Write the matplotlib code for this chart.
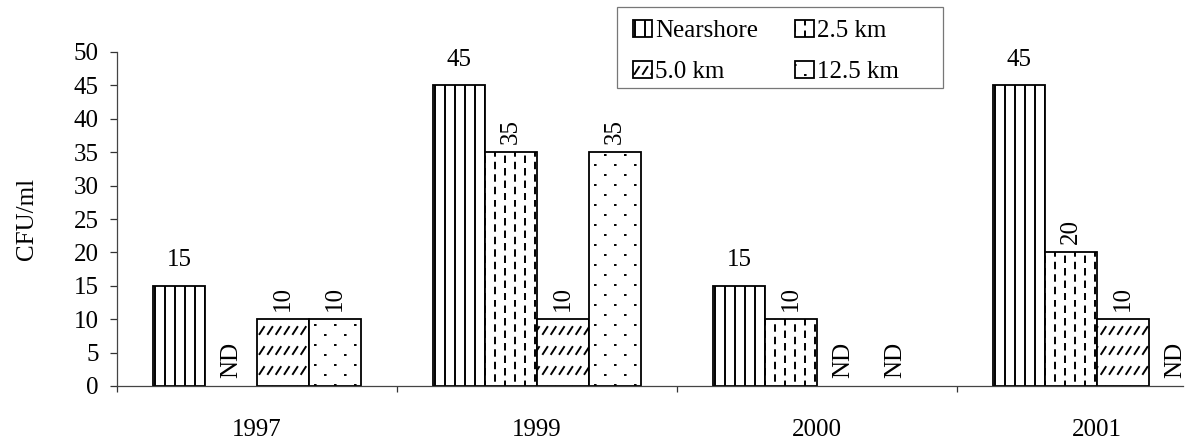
import numpy as np
import matplotlib
matplotlib.use("Agg")
import matplotlib.pyplot as plt
import matplotlib.hatch as mhatch
from matplotlib.path import Path
from matplotlib.patches import Patch, Rectangle

# ---------------- data ----------------
years = ["1997", "1999", "2000", "2001"]
series_names = ["Nearshore", "2.5 km", "5.0 km", "12.5 km"]
nearshore = [15, 45, 15, 45]
km_2_5 = [None, 35, 10, 20]
km_5_0 = [10, 10, None, 10]
km_12_5 = [10, 35, None, None]
nd_label = "ND"
y_label = "CFU/ml"
y_ticks = [0, 5, 10, 15, 20, 25, 30, 35, 40, 45, 50]

series_values = [nearshore, km_2_5, km_5_0, km_12_5]
hatches = ["|", "-", "/", "."]


# ---------------- custom hatch patterns ----------------
class VSolid(mhatch.HatchPatternBase):
    def __init__(self, hatch, density):
        self.n = 10 if "|" in hatch else 0
        self.num_vertices = self.n * 2

    def set_vertices_and_codes(self, vertices, codes):
        xs = (np.arange(self.n) + 0.5) / self.n
        vertices[0::2, 0] = xs
        vertices[0::2, 1] = 0.0
        vertices[1::2, 0] = xs
        vertices[1::2, 1] = 1.0
        codes[0::2] = Path.MOVETO
        codes[1::2] = Path.LINETO


class VDashed(mhatch.HatchPatternBase):
    def __init__(self, hatch, density):
        self.cols = 10 if "-" in hatch else 0
        self.per = 8
        self.num_vertices = self.cols * self.per * 2

    def set_vertices_and_codes(self, vertices, codes):
        i = 0
        for c in range(self.cols):
            x = (c + 0.5) / self.cols
            for k in range(self.per):
                y0 = (k + 0.5 * (c % 2)) / self.per + 0.005
                vertices[i] = (x, y0)
                vertices[i + 1] = (x, y0 + 0.055)
                codes[i] = Path.MOVETO
                codes[i + 1] = Path.LINETO
                i += 2


class DiagShort(mhatch.HatchPatternBase):
    def __init__(self, hatch, density):
        self.rows = 5 if "/" in hatch else 0
        self.per = 12
        self.num_vertices = self.rows * self.per * 2

    def set_vertices_and_codes(self, vertices, codes):
        i = 0
        for r in range(self.rows):
            y0 = r / self.rows + 0.06
            for k in range(self.per):
                x0 = k / self.per + 0.012
                vertices[i] = (x0, y0)
                vertices[i + 1] = (x0 + 0.045, y0 + 0.07)
                codes[i] = Path.MOVETO
                codes[i + 1] = Path.LINETO
                i += 2


class Dots(mhatch.HatchPatternBase):
    def __init__(self, hatch, density):
        self.rows = 10 if "." in hatch else 0
        self.cols = 5
        self.num_vertices = self.rows * self.cols * 2

    def set_vertices_and_codes(self, vertices, codes):
        i = 0
        for r in range(self.rows):
            y = (r + 0.5) / self.rows
            off = 0.5 / self.cols if r % 2 else 0.0
            for c in range(self.cols):
                x = c / self.cols + 0.05 + off
                vertices[i] = (x, y)
                vertices[i + 1] = (x + 0.006, y)
                codes[i] = Path.MOVETO
                codes[i + 1] = Path.LINETO
                i += 2


mhatch._hatch_types = [VSolid, VDashed, DiagShort, Dots]

plt.rcParams["font.family"] = ["Liberation Serif", "DejaVu Serif"]
plt.rcParams["hatch.linewidth"] = 1.4
plt.rcParams["hatch.color"] = "black"

# ---------------- figure ----------------
W, H = 1195, 442
fig = plt.figure(figsize=(W / 100, H / 100), dpi=100)
ax_left, ax_right = 117 / W, 1183 / W
ax_bottom, ax_top = (H - 386) / H, (H - 52) / H
ax = fig.add_axes([ax_left, ax_bottom, ax_right - ax_left, ax_top - ax_bottom])

fs = 18
x = np.arange(len(years))
bw = 0.186
offsets = (np.arange(4) - 1.5) * bw

for si, (vals, hatch) in enumerate(zip(series_values, hatches)):
    for gi, v in enumerate(vals):
        xc = x[gi] + offsets[si]
        if v is not None:
            ax.bar(xc, v, width=bw, facecolor="white", edgecolor="black",
                   linewidth=1.3, hatch=hatch, zorder=2)
            if si == 0:
                ax.annotate(str(v), (xc, v), xytext=(0, 14),
                            textcoords="offset points", ha="center",
                            va="baseline", fontsize=fs)
            else:
                ax.annotate(str(v), (xc, v), xytext=(0, 6),
                            textcoords="offset points", ha="center",
                            va="bottom", rotation=90, fontsize=fs)
        else:
            ax.annotate(nd_label, (xc, 0), xytext=(0, 6),
                        textcoords="offset points", ha="center",
                        va="bottom", rotation=90, fontsize=fs)

ax.set_ylim(0, 50)
ax.set_xlim(-0.5, -0.5 + (1183 - 117) / 280)
ax.set_yticks(y_ticks)
ax.tick_params(axis="y", direction="out", length=5, width=0.9,
               pad=8, labelsize=fs, colors="#333333", labelcolor="black")

ax.set_xticks(np.arange(len(years)) - 0.5)
ax.set_xticklabels([])
ax.set_xticks(x, minor=True)
ax.set_xticklabels(years, minor=True, fontsize=fs)
ax.tick_params(axis="x", which="major", direction="out", length=4, width=0.9,
               colors="#333333")
ax.tick_params(axis="x", which="minor", length=0, pad=24)

for s in ["top", "right"]:
    ax.spines[s].set_visible(False)
for s in ["left", "bottom"]:
    ax.spines[s].set_color("#444444")
    ax.spines[s].set_linewidth(0.9)

ax.set_ylabel(y_label, fontsize=fs)
ax.yaxis.set_label_coords(-0.074, 0.5)

# legend (frame drawn separately to match the wide box of the original)
handles = [Patch(facecolor="white", edgecolor="black", linewidth=1.3,
                 hatch=h, label=n) for h, n in zip(hatches, series_names)]
order = [0, 2, 1, 3]
leg = fig.legend([handles[i] for i in order], [series_names[i] for i in order],
                 ncol=2, loc="upper left",
                 bbox_to_anchor=(623 / W, 1 - 10 / H),
                 bbox_transform=fig.transFigure, borderaxespad=0,
                 fontsize=fs, frameon=False,
                 handlelength=0.75, handleheight=0.65, handletextpad=0.12,
                 columnspacing=1.5, labelspacing=0.75, borderpad=0.4)
fig.add_artist(Rectangle((617 / W, 1 - 88 / H), 326 / W, 81 / H,
                         transform=fig.transFigure, fill=False,
                         edgecolor="#777777", linewidth=0.9))

fig.savefig("out.png", dpi=100, facecolor="white")
